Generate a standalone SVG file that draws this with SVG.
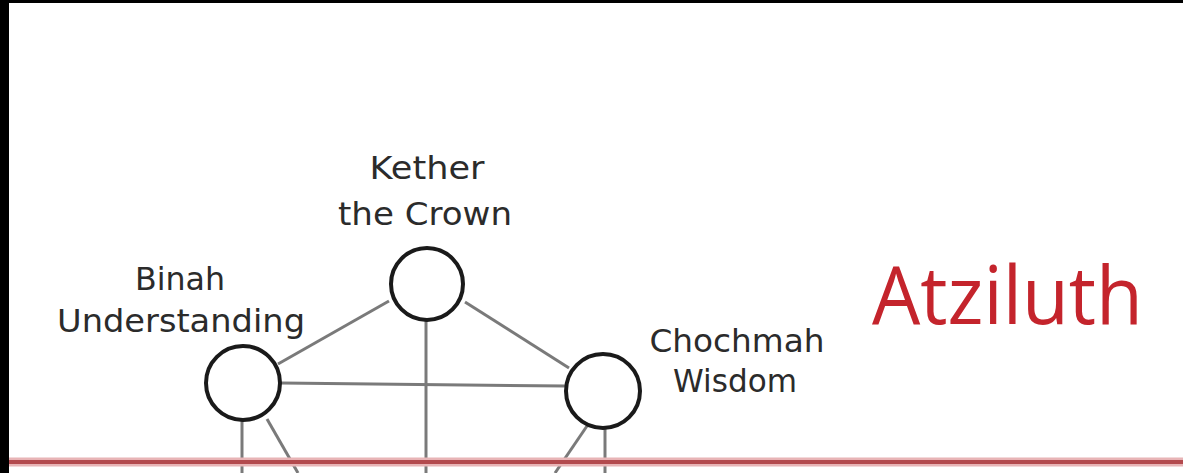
<svg xmlns="http://www.w3.org/2000/svg" width="1183" height="473" viewBox="0 0 1183 473">
  <style>
    .lbl { font-family: "DejaVu Sans", Verdana, sans-serif; font-size: 32px; fill: #2b2b2b; text-anchor: middle; }
    .title { font-family: "Open Sans", "DejaVu Sans", sans-serif; font-size: 80px; fill: #c4242c; }
    .edge { stroke: #7a7a7a; stroke-width: 3; fill: none; stroke-linecap: butt; }
    .node { fill: #ffffff; stroke: #1a1a1a; stroke-width: 4; }
  </style>
  <rect x="0" y="0" width="1183" height="473" fill="#ffffff"/>
  <rect x="0" y="0" width="1183" height="3" fill="#000000"/>
  <rect x="0" y="0" width="9" height="473" fill="#000000"/>

  <g id="connectors">
    <line class="edge" x1="389" y1="301" x2="278" y2="364"/>
    <line class="edge" x1="465" y1="302" x2="569" y2="368"/>
    <line class="edge" x1="281" y1="383" x2="566" y2="386"/>
    <line class="edge" x1="426" y1="321" x2="426" y2="473"/>
    <line class="edge" x1="242" y1="421" x2="242" y2="473"/>
    <line class="edge" x1="267" y1="419" x2="298" y2="473"/>
    <line class="edge" x1="605" y1="429" x2="605" y2="473"/>
    <line class="edge" x1="587" y1="426" x2="555" y2="473"/>
  </g>

  <line x1="9" y1="462" x2="1183" y2="462" stroke="#e8b4b6" stroke-width="9"/>
  <line x1="9" y1="462" x2="1183" y2="462" stroke="#b34a4e" stroke-width="4"/>

  <g id="kether">
    <circle class="node" cx="427" cy="284" r="36"/>
    <text class="lbl" x="427" y="179" textLength="115" lengthAdjust="spacingAndGlyphs">Kether</text>
    <text class="lbl" x="425" y="225" textLength="174" lengthAdjust="spacingAndGlyphs">the Crown</text>
  </g>
  <g id="binah">
    <circle class="node" cx="243" cy="383" r="37"/>
    <text class="lbl" x="180" y="290" textLength="90" lengthAdjust="spacingAndGlyphs">Binah</text>
    <text class="lbl" x="181" y="332" textLength="248" lengthAdjust="spacingAndGlyphs">Understanding</text>
  </g>
  <g id="chochmah">
    <circle class="node" cx="603" cy="391" r="37"/>
    <text class="lbl" x="737" y="352" textLength="175" lengthAdjust="spacingAndGlyphs">Chochmah</text>
    <text class="lbl" x="735" y="392" textLength="124" lengthAdjust="spacingAndGlyphs">Wisdom</text>
  </g>
  <g id="atziluth">
    <text class="title" x="872" y="324" textLength="271" lengthAdjust="spacingAndGlyphs">Atziluth</text>
  </g>
</svg>
